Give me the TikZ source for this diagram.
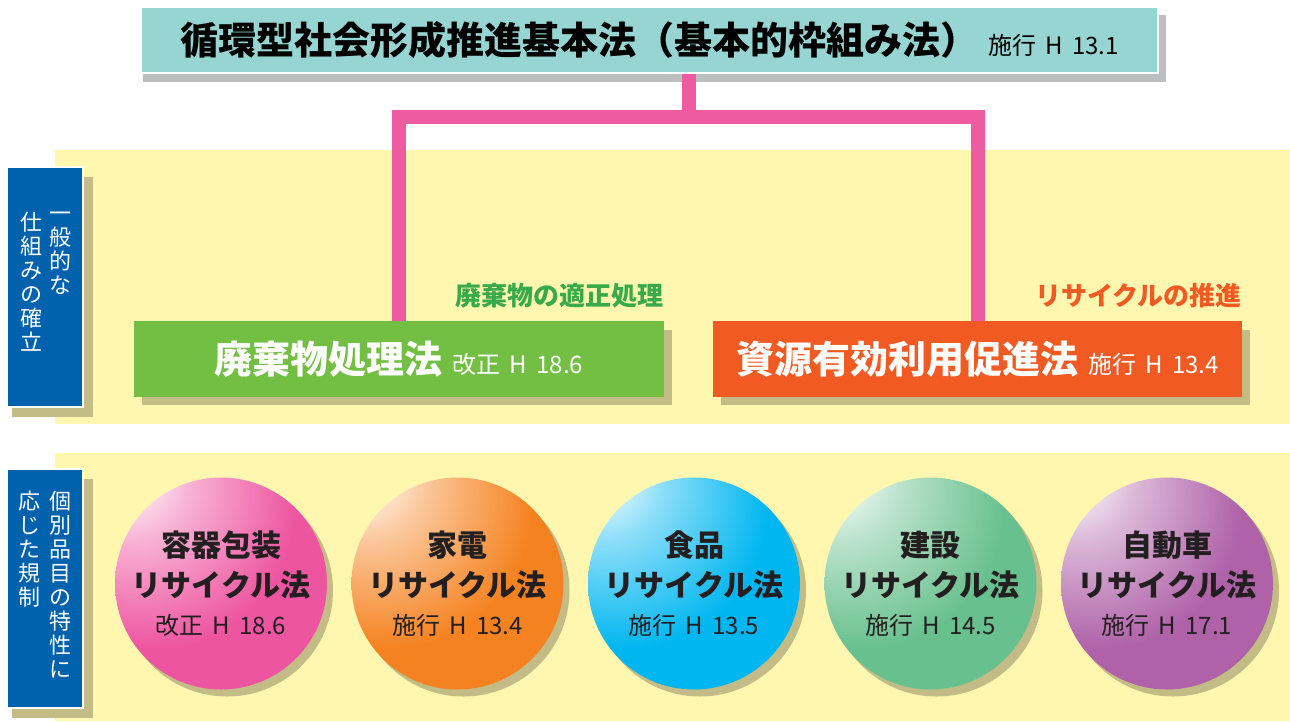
\documentclass[tikz,border=0pt]{standalone}
\usepackage{fontspec}
\setmainfont{Noto Sans CJK JP}
\definecolor{tealbox}{HTML}{96D5D2}
\definecolor{grayshadow}{HTML}{BDBEC0}
\definecolor{khaki}{HTML}{C3BC87}
\definecolor{bandyellow}{HTML}{FFF7AF}
\definecolor{pinkline}{HTML}{EE5BA0}
\definecolor{bluebox}{HTML}{0061AD}
\definecolor{greenbox}{HTML}{72BF44}
\definecolor{greenlbl}{HTML}{39AA49}
\definecolor{orangebox}{HTML}{F15A22}
\definecolor{darktext}{HTML}{231F20}
\definecolor{cA}{HTML}{EE55A0}
\definecolor{cB}{HTML}{F58220}
\definecolor{cC}{HTML}{00B6F0}
\definecolor{cD}{HTML}{68C08E}
\definecolor{cE}{HTML}{AF62A8}
\pgfdeclareradialshading{ball1}{\pgfpoint{-25bp}{28bp}}{color(0bp)=(white); color(3bp)=(white); color(14bp)=(cA!45!white); color(34bp)=(cA); color(100bp)=(cA)}
\pgfdeclareradialshading{ball2}{\pgfpoint{-25bp}{28bp}}{color(0bp)=(white); color(3bp)=(white); color(14bp)=(cB!45!white); color(34bp)=(cB); color(100bp)=(cB)}
\pgfdeclareradialshading{ball3}{\pgfpoint{-25bp}{28bp}}{color(0bp)=(white); color(3bp)=(white); color(14bp)=(cC!45!white); color(34bp)=(cC); color(100bp)=(cC)}
\pgfdeclareradialshading{ball4}{\pgfpoint{-25bp}{28bp}}{color(0bp)=(white); color(3bp)=(white); color(14bp)=(cD!45!white); color(34bp)=(cD); color(100bp)=(cD)}
\pgfdeclareradialshading{ball5}{\pgfpoint{-25bp}{28bp}}{color(0bp)=(white); color(3bp)=(white); color(14bp)=(cE!45!white); color(34bp)=(cE); color(100bp)=(cE)}
\newcommand{\gp}{\hspace{0.38em}}
\tikzset{
  lawbox/.style={rectangle, inner sep=0pt, minimum height=76pt, text=white},
  labelbox/.style={rectangle, inner sep=0pt, fill=bluebox, draw=white, line width=2pt, minimum width=76pt},
  vtext/.style={anchor=north, inner sep=0pt, align=center, text=white, font=\fontsize{22}{24}\selectfont},
  subtitle/.style={anchor=east, inner sep=0pt, font=\bfseries\fontsize{26}{30}\selectfont},
  connector/.style={draw=pinkline, line width=14pt},
  ballA/.style={inner sep=0pt, text=darktext, font=\bfseries\fontsize{30}{34}\selectfont},
  ballB/.style={inner sep=0pt, text=darktext, font=\fontsize{24}{28}\selectfont},
}
\begin{document}
\begin{tikzpicture}[x=1pt,y=-1pt]
\useasboundingbox[fill=white] (0,0) rectangle (1290,721);
% bands
\fill[bandyellow] (55,150) rectangle (1290,424);
\fill[bandyellow] (55,453) rectangle (1290,721);
% title
\fill[grayshadow] (143,15) rectangle (1166,82);
\node[rectangle, inner sep=0pt, fill=tealbox, draw=white, line width=2pt, minimum width=1017pt, minimum height=66pt] (title) at (649.5,40)
  {{\bfseries\fontsize{38}{42}\selectfont 循環型社会形成推進基本法（基本的枠組み法）}\hspace{10pt}{\fontsize{24}{28}\selectfont 施行\gp H\gp 13.1}};
% law boxes
\fill[khaki] (142,330) rectangle (672,405);
\node[lawbox, fill=greenbox, minimum width=530pt] (waste) at (399,359)
  {{\bfseries\fontsize{38}{42}\selectfont 廃棄物処理法}\hspace{10pt}{\fontsize{24}{28}\selectfont 改正\gp H\gp 18.6}};
\fill[khaki] (721,330) rectangle (1250,405);
\node[lawbox, fill=orangebox, minimum width=529pt] (res) at (977.5,359)
  {{\bfseries\fontsize{38}{42}\selectfont 資源有効利用促進法}\hspace{10pt}{\fontsize{24}{28}\selectfont 施行\gp H\gp 13.4}};
\node[subtitle, text=greenlbl] (wastelbl) at (664,296) {廃棄物の適正処理};
\node[subtitle, text=orangebox] (reslbl) at (1242,296) {リサイクルの推進};
% connectors
\coordinate (j) at (688.5,117);
\draw[connector] (title.south -| j) -- (j);
\draw[connector] (waste.north) |- (j);
\draw[connector] (res.north) |- (j);
% side labels
\fill[khaki] (12,177) rectangle (93,417);
\node[labelbox, minimum height=240pt] (gen) at (45,287) {};
\node[vtext] (genr) at (60,212) {一\\般\\的\\な};
\node[vtext] (genl) at (31,212) {仕\\組\\み\\の\\確\\立};
\fill[khaki] (12,479) rectangle (93,718);
\node[labelbox, minimum height=239pt] (ind) at (45,588.5) {};
\node[vtext] (indr) at (60,491) {個\\別\\品\\目\\の\\特\\性\\に};
\node[vtext] (indl) at (30,491) {応\\じ\\た\\規\\制};
% balls
\foreach \i/\xx/\top/\a/\b in {1/221/容器包装/改正/18.6, 2/457.5/家電/施行/13.4, 3/694/食品/施行/13.5, 4/930.5/建設/施行/14.5, 5/1167/自動車/施行/17.1} {
  \fill[khaki] (\xx+6,590.5) circle (106pt);
  \node[circle, inner sep=0pt, minimum size=212pt, shade, shading=ball\i] (ball\i) at (\xx,583.5) {};
  \node[ballA] (ball\i a) at (\xx,545.5) {\top};
  \node[ballA] (ball\i b) at (\xx,585) {リサイクル法};
  \node[ballB] (ball\i c) at (\xx,625) {\a\gp H\gp\b};
}
\end{tikzpicture}
\end{document}
